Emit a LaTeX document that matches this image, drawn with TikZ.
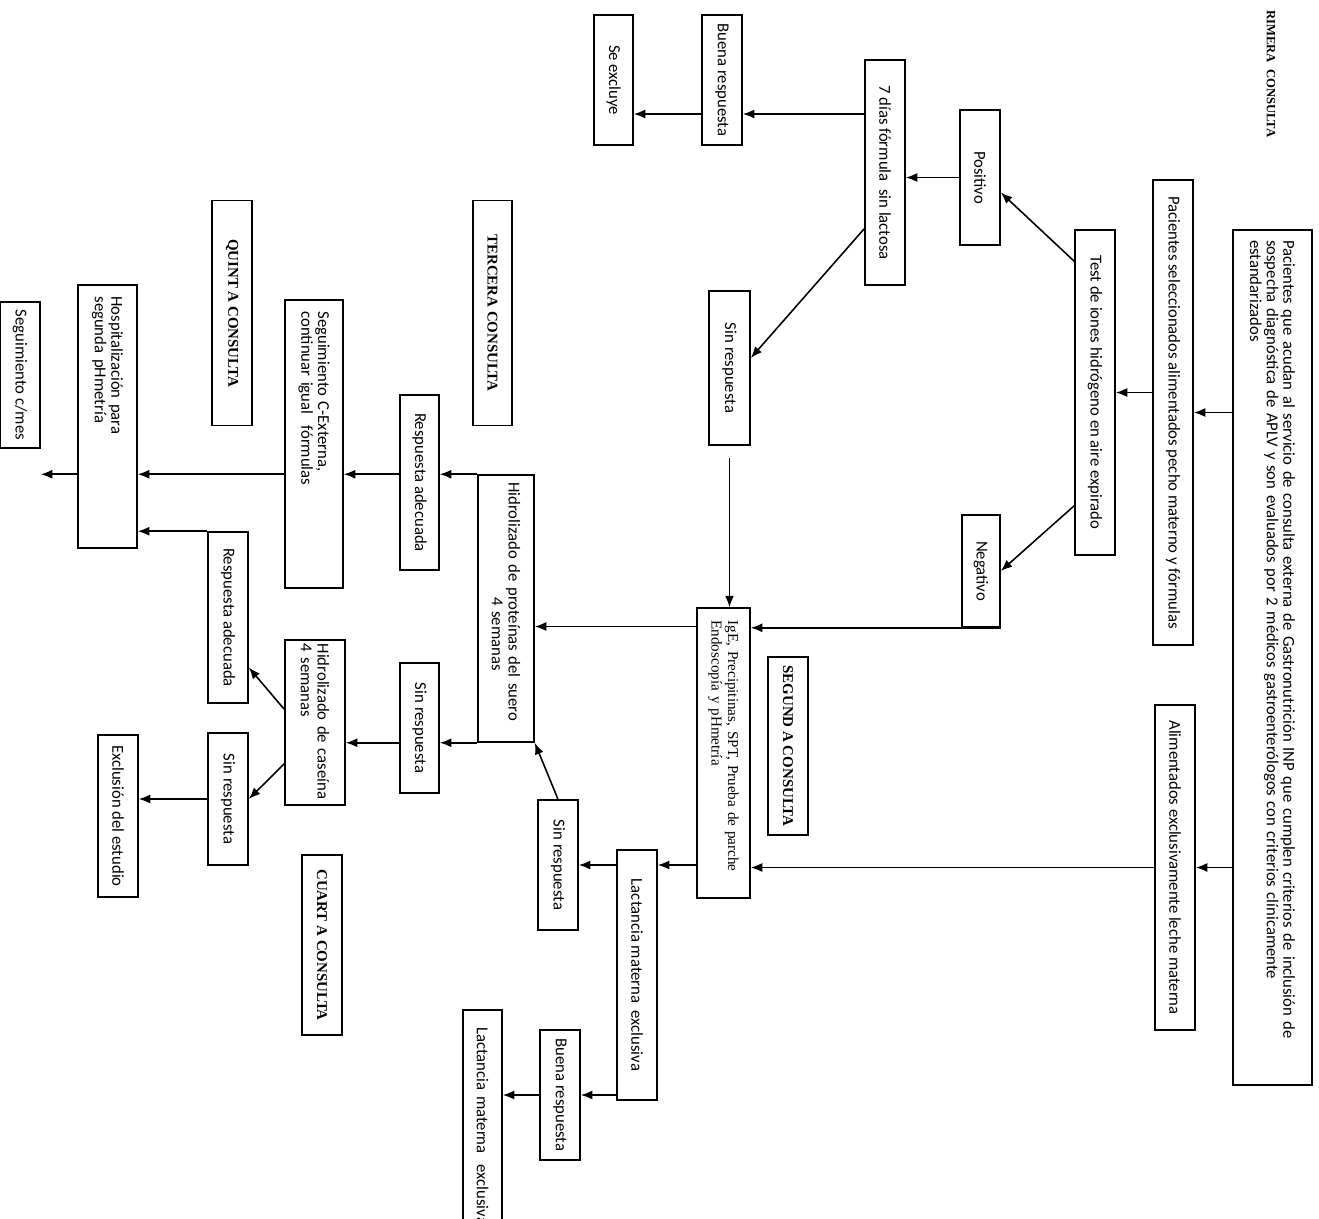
\documentclass[tikz,border=0pt]{standalone}
\usepackage{fontspec}
\setmainfont{Carlito}
\newfontfamily\headfont{Liberation Serif}
\usetikzlibrary{arrows.meta}

\begin{document}
\begin{tikzpicture}[x=0.02cm, y=-0.02cm,
  every node/.style={font=\fontsize{9.5}{9.5}\selectfont},
  box/.style={draw, line width=0.9pt, rotate=-90, inner sep=2pt, align=center},
  tbox/.style={box, align=left},
  head/.style={box, font=\headfont\bfseries\fontsize{8.5}{9}\selectfont},
  arr/.style={line width=0.9pt, -{Latex[length=2.3mm, width=1.8mm]}}]
  \useasboundingbox (0,0) rectangle (1319,1218);
  \clip (0,0) rectangle (1319,1218);

  % Primera consulta
  \node[rotate=-90, anchor=west, font=\headfont\bfseries\fontsize{7.2}{8}\selectfont] (rimera) at (1271,4) {RIMERA \ CONSULTA};
  \node[tbox, minimum width=17.1cm, minimum height=1.58cm, text width=16.7cm] (pac) at (1272.5,657.5)
    {Pacientes que acudan al servicio de consulta externa de Gastronutrición INP que cumplen criterios de inclusión de\\
     sospecha diagnóstica de APLV y son evaluados por 2 médicos gastroenterólogos con criterios clínicamente\\
     estandarizados};
  \node[box, minimum width=9.3cm, minimum height=0.8cm] (sel) at (1173,412.5) {Pacientes seleccionados alimentados pecho materno y fórmulas};
  \node[box, minimum width=6.5cm, minimum height=0.8cm] (alim) at (1175,867.5) {Alimentados exclusivamente leche materna};
  \node[box, minimum width=6.5cm, minimum height=0.8cm] (test) at (1095,392.5) {Test de iones hidrógeno en aire expirado};
  \node[box, minimum width=2.7cm, minimum height=0.8cm] (pos) at (980,177.5) {Positivo};
  \node[box, minimum width=2.24cm, minimum height=0.76cm] (neg) at (981,571) {Negativo};
  \node[box, minimum width=4.5cm, minimum height=0.8cm] (dias) at (885,172.5) {7 días fórmula \ sin lactosa};
  \node[box, minimum width=2.6cm, minimum height=0.8cm] (buena1) at (722,80) {Buena respuesta};
  \node[box, minimum width=2.6cm, minimum height=0.78cm] (excl1) at (613.5,80) {Se excluye};
  \node[box, minimum width=3.08cm, minimum height=0.82cm] (sin1) at (729.5,368) {Sin respuesta};

  % Segunda consulta
  \node[head, minimum width=3.56cm, minimum height=0.8cm] (seg2) at (788,746) {SEGUND A CONSULTA};
  \node[tbox, minimum width=5.8cm, minimum height=1.06cm, text width=5.3cm, font=\headfont\fontsize{8.6}{9.5}\selectfont] (ige) at (723.5,753)
    {IgE, Precipitinas, SPT, Prueba de parche\\ Endoscopía y pHmetría};
  \node[box, minimum width=5cm, minimum height=0.8cm] (lact) at (637,975) {Lactancia materna \ exclusiva};
  \node[box, minimum width=2.6cm, minimum height=0.8cm] (sin2) at (558,865) {Sin respuesta};
  \node[box, minimum width=2.6cm, minimum height=0.8cm] (buena2) at (560,1095) {Buena respuesta};
  \node[tbox, minimum width=5cm, minimum height=0.78cm, text width=4.8cm] (lact2) at (482.5,1135) {\hspace*{0.25cm}Lactancia materna \ exclusiva};

  % Tercera consulta
  \node[head, minimum width=4.5cm, minimum height=0.78cm] (ter) at (492.5,313) {TERCERA CONSULTA};
  \node[tbox, minimum width=5.34cm, minimum height=1.12cm, text width=5.05cm] (suero) at (506,608.5)
    {Hidrolizado de proteínas del suero\\ \hspace*{2.3cm}4 semanas};
  \node[box, minimum width=3.5cm, minimum height=0.78cm] (resp1) at (419.5,482.5) {Respuesta adecuada};
  \node[box, minimum width=2.6cm, minimum height=0.78cm] (sin3) at (419.5,728) {Sin respuesta};

  % Cuarta consulta
  \node[head, minimum width=3.6cm, minimum height=0.8cm] (cuart) at (322,945) {CUART A CONSULTA};
  \node[tbox, minimum width=5.76cm, minimum height=1.16cm, text width=5.3cm] (seg) at (314,444)
    {Seguimiento C-Externa,\\ continuar igual \ fórmulas};
  \node[tbox, minimum width=3.3cm, minimum height=1.2cm, text width=3.15cm] (cas) at (315,722.5)
    {Hidrolizado de caseína\\ 4 semanas};
  \node[box, minimum width=3.42cm, minimum height=0.8cm] (resp2) at (228,617.5) {Respuesta adecuada};
  \node[box, minimum width=2.64cm, minimum height=0.8cm] (sin4) at (228,799) {Sin respuesta};

  % Quinta consulta
  \node[head, minimum width=4.5cm, minimum height=0.8cm] (quint) at (232,313) {QUINT A CONSULTA};
  \node[tbox, minimum width=5.26cm, minimum height=1.18cm, text width=4.8cm] (hosp) at (107.5,416.5)
    {Hospitalización para\\ segunda pHmetría};
  \node[box, minimum width=2.92cm, minimum height=0.8cm] (segmes) at (20,375) {Seguimiento c/mes};
  \node[box, minimum width=3.24cm, minimum height=0.8cm] (excl2) at (118,816) {Exclusión del estudio};

  % Flechas
  \draw[arr] (pac.south |- sel.north) -- (sel.north);
  \draw[arr] (pac.south |- alim.north) -- (alim.north);
  \draw[arr] (sel.south |- test.north) -- (test.north);
  \draw[arr] ([shift={(0,32)}]test.south west) -- ([shift={(0,15)}]pos.north);
  \draw[arr] ([shift={(0,-50)}]test.south east) -- (neg.north);
  \draw[arr] (pos.south) -- (pos.south -| dias.north);
  \draw[arr] ([shift={(0,34)}]dias.south |- buena1.north) -- ([shift={(0,34)}]buena1.north);
  \draw[arr] ([shift={(0,34)}]buena1.south) -- ([shift={(0,34)}]buena1.south -| excl1.north);
  \draw[arr] ([shift={(0,-57)}]dias.south east) -- ([shift={(0,-10)}]sin1.north);
  \draw[arr] ([shift={(0,12)}]sin1.east) -- (sin1.east |- ige.west);
  \draw[arr] (neg.north east) -- (neg.north east -| ige.north);
  \draw[arr] (alim.south) -- (alim.south -| ige.north);

  \draw[arr] (ige.south |- sin2.north) -- (lact.north |- sin2.north);
  \draw[arr] (lact.south |- sin2.north) -- (sin2.north);
  \draw[arr] (lact.south |- buena2.north) -- (buena2.north);
  \draw[arr] (buena2.south) -- (buena2.south -| lact2.north);
  \draw[arr] ([shift={(0,18)}]ige.south |- suero.north) -- ([shift={(0,18)}]suero.north);
  \draw[arr] (sin2.west) -- (suero.north east);

  \draw[arr] (suero.south west) -- (suero.south west -| resp1.north);
  \draw[arr] (resp1.south |- suero.south west) -- (suero.south west -| seg.north);
  \draw[arr] (seg.south |- suero.south west) -- (suero.south west -| hosp.north);
  \draw[arr] (hosp.south |- suero.south west) -- (suero.south west -| segmes.north);
  \draw[arr] (suero.south east) -- (suero.south east -| sin3.north);
  \draw[arr] (sin3.south |- suero.south east) -- (suero.south east -| cas.north);

  \draw[arr] ([shift={(0,70)}]cas.south west) -- ([shift={(0,50)}]resp2.north);
  \draw[arr] ([shift={(0,-42)}]cas.south east) -- (sin4.north);
  \draw[arr] (resp2.south west) -- (resp2.south west -| hosp.north);
  \draw[arr] (sin4.south) -- (sin4.south -| excl2.north);
\end{tikzpicture}
\end{document}
